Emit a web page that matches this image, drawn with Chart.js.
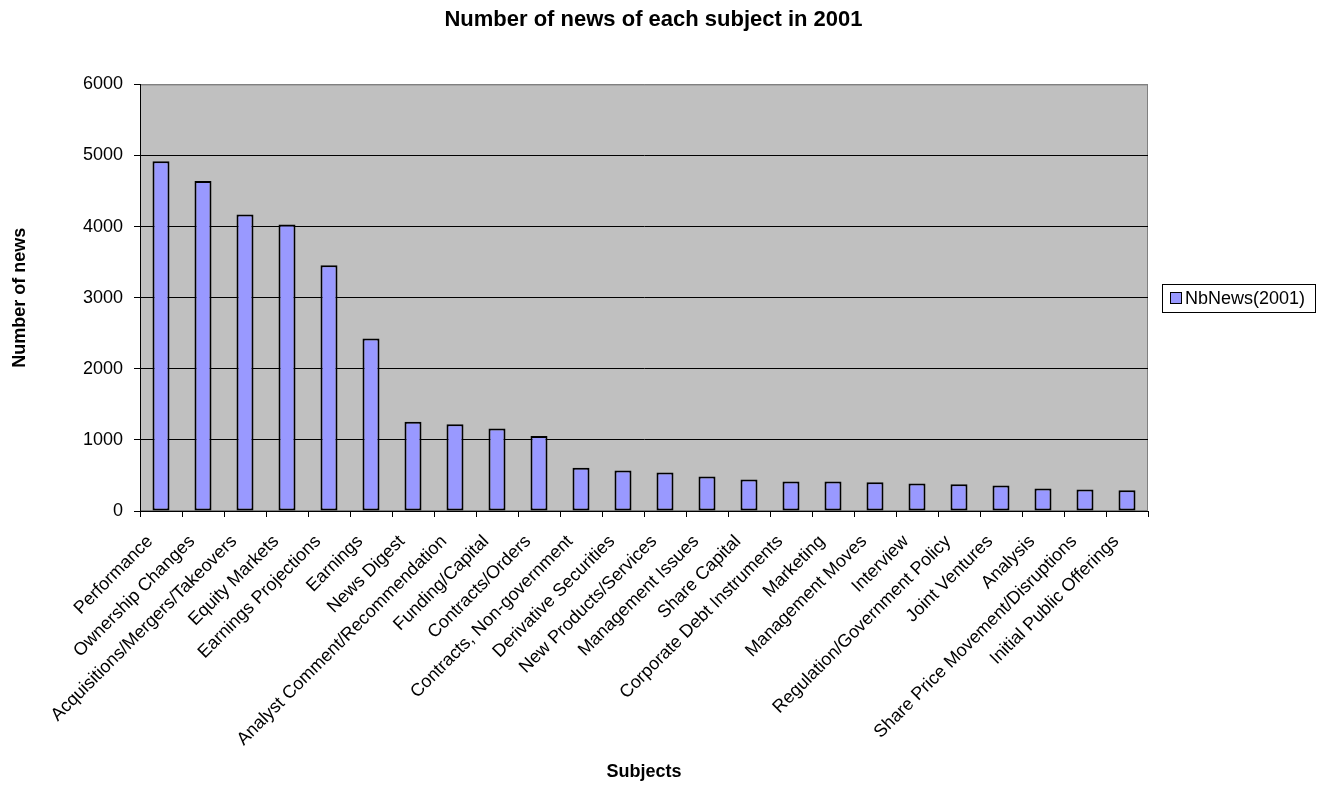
<!DOCTYPE html>
<html>
<head>
<meta charset="utf-8">
<script src="https://cdn.jsdelivr.net/npm/chart.js@4/dist/chart.umd.min.js"></script>
<style>
  html, body { margin: 0; padding: 0; background: #fff; }
  canvas { display: block; }
</style>
</head>
<body>
<canvas id="grafik" width="1319" height="787"></canvas>
<script>
const konular = [
    'Performance', 'Ownership Changes', 'Acquisitions/Mergers/Takeovers', 'Equity Markets',
    'Earnings Projections', 'Earnings', 'News Digest', 'Analyst Comment/Recommendation',
    'Funding/Capital', 'Contracts/Orders', 'Contracts, Non-government', 'Derivative Securities',
    'New Products/Services', 'Management Issues', 'Share Capital', 'Corporate Debt Instruments',
    'Marketing', 'Management Moves', 'Interview', 'Regulation/Government Policy',
    'Joint Ventures', 'Analysis', 'Share Price Movement/Disruptions', 'Initial Public Offerings'
];
const haberSayisi = [
    4920, 4640, 4170, 4030, 3455, 2425, 1255, 1220, 1160, 1055,
    608, 571, 542, 486, 443, 415, 415, 406, 387, 377,
    358, 316, 302, 292
];
const yTikler = [0, 1000, 2000, 3000, 4000, 5000, 6000];
const seriAdi = 'NbNews(2001)';

const yazi = "Arial, 'Liberation Sans', sans-serif";

// gri çizim alanı + çerçeve
const arkaPlan = {
    id: 'arkaPlan',
    beforeDraw(chart) {
        const { ctx, chartArea: a } = chart;
        ctx.save();
        ctx.fillStyle = '#c0c0c0';
        ctx.fillRect(a.left, a.top, a.right - a.left, a.bottom - a.top);
        ctx.strokeStyle = '#808080';
        ctx.lineWidth = 1;
        ctx.strokeRect(a.left + 0.5, a.top + 0.5, a.right - a.left - 1, a.bottom - a.top - 1);
        ctx.restore();
    }
};

// sağdaki çerçeveli açıklama kutusu
const aciklama = {
    id: 'aciklama',
    afterDraw(chart) {
        const { ctx, chartArea: a } = chart;
        const ds = chart.data.datasets[0];
        const x = 1162, w = 153, h = 28;
        const y = Math.round((a.top + a.bottom) / 2 - h / 2);
        ctx.save();
        ctx.fillStyle = '#fff';
        ctx.fillRect(x, y, w, h);
        ctx.strokeStyle = '#000';
        ctx.lineWidth = 1;
        ctx.strokeRect(x + 0.5, y + 0.5, w, h);
        ctx.fillStyle = ds.backgroundColor;
        ctx.fillRect(x + 8, y + 8, 11, 11);
        ctx.strokeRect(x + 8.5, y + 8.5, 11, 11);
        ctx.fillStyle = '#000';
        ctx.font = '18px ' + yazi;
        ctx.textBaseline = 'middle';
        ctx.fillText(ds.label, x + 23, y + h / 2 + 1);
        ctx.restore();
    }
};

const ctx = document.getElementById('grafik').getContext('2d');
new Chart(ctx, {
    type: 'bar',
    data: {
        labels: konular,
        datasets: [{
            label: seriAdi,
            data: haberSayisi,
            backgroundColor: '#9999ff',
            borderColor: '#000',
            borderWidth: 2,
            borderSkipped: false,
            categoryPercentage: 1,
            barPercentage: 0.405
        }]
    },
    options: {
        responsive: false,
        animation: false,
        devicePixelRatio: 1,
        layout: { padding: { left: 0, right: 12, top: 0, bottom: 0 } },
        plugins: {
            legend: { display: false },
            tooltip: { enabled: false },
            title: {
                display: true,
                text: 'Number of news of each subject in 2001',
                color: '#000',
                font: { family: yazi, size: 22, weight: 'bold' },
                padding: { top: 7, bottom: 51 }
            }
        },
        scales: {
            x: {
                grid: {
                    display: true,
                    drawOnChartArea: false,
                    drawTicks: true,
                    tickLength: 6,
                    color: '#000',
                    offset: true
                },
                border: { color: '#000', width: 1 },
                ticks: {
                    color: '#000',
                    font: { family: yazi, size: 18 },
                    minRotation: 45,
                    maxRotation: 45,
                    autoSkip: false,
                    padding: 14,
                    labelOffset: -11
                },
                title: {
                    display: true,
                    text: 'Subjects',
                    color: '#000',
                    font: { family: yazi, size: 18, weight: 'bold' },
                    padding: { top: 4, bottom: 4 }
                },
                afterFit(scale) { scale.height = 276; }
            },
            y: {
                min: 0,
                max: 6000,
                afterBuildTicks(scale) { scale.ticks = yTikler.map(v => ({ value: v })); },
                grid: {
                    color: c => (c.tick && c.tick.value === 6000 ? '#808080' : '#000'),
                    lineWidth: 1,
                    drawTicks: true,
                    tickLength: 6,
                    tickColor: '#000'
                },
                border: { color: '#000', width: 1 },
                ticks: {
                    color: '#000',
                    font: { family: yazi, size: 18 },
                    padding: 11,
                    callback: v => String(v)
                },
                title: {
                    display: true,
                    text: 'Number of news',
                    color: '#000',
                    font: { family: yazi, size: 18, weight: 'bold' },
                    padding: { top: 9, bottom: 0 }
                },
                afterFit(scale) { scale.width = 140; }
            },
            // açıklama kutusu için sağda boşluk
            bosluk: {
                type: 'linear',
                position: 'right',
                display: true,
                grid: { display: false, drawTicks: false },
                border: { display: false },
                ticks: { display: false },
                afterFit(scale) { scale.width = 1319 - 12 - 1148; }
            }
        }
    },
    plugins: [arkaPlan, aciklama]
});
</script>
</body>
</html>
